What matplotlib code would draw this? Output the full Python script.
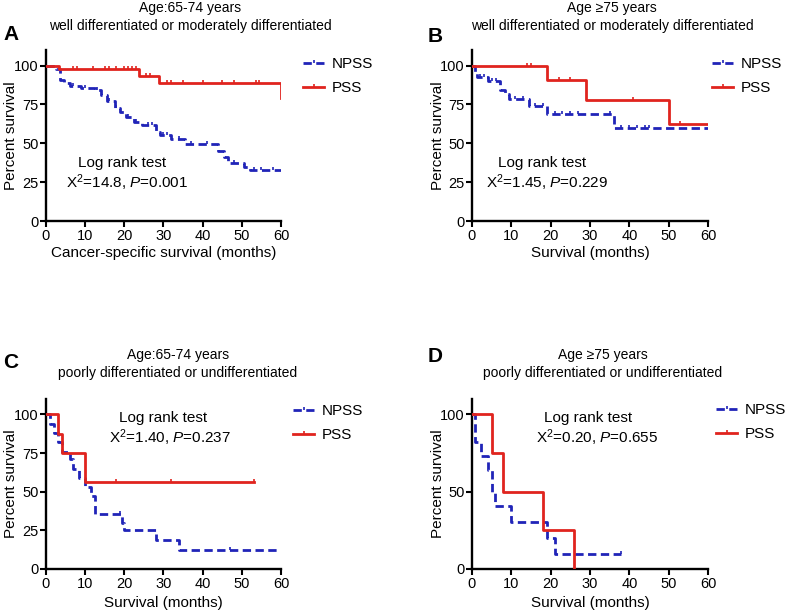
import numpy as np
import matplotlib
matplotlib.use("Agg")
import matplotlib.pyplot as plt
from matplotlib.lines import Line2D

plt.rcParams['font.family'] = ['Liberation Sans', 'DejaVu Sans']
plt.rcParams['mathtext.fontset'] = 'custom'
plt.rcParams['mathtext.rm'] = 'Liberation Sans'
plt.rcParams['mathtext.it'] = 'Liberation Sans:italic'

# ---------------- data ----------------
A_npss_t = [0, 2.5, 3.5, 4.5, 6, 9, 12.5, 14, 15.5, 17.5, 19, 20.5, 22.5, 24.5, 28, 29, 32, 35.5, 44, 45.5, 46.5, 50.5, 52, 60]
A_npss_s = [100, 98, 91, 89, 87, 85.5, 84, 81, 77, 73, 70, 67, 64, 62, 57, 55.5, 53, 49.5, 45, 41, 37.5, 35, 33, 33]
A_npss_c = [7, 10, 13, 16, 18, 21, 23, 26, 27, 30, 31, 34, 37, 41, 48, 53, 55, 58]
A_pss_t = [0, 3.3, 23.7, 28.8, 60]
A_pss_s = [100, 97.5, 93, 88.5, 79]
A_pss_c = [7, 8, 12, 15, 16, 18, 20, 21, 22, 23, 25.5, 26.5, 31, 32, 35, 40, 45, 48, 53.5, 54.5]

B_npss_t = [0, 0.7, 1.3, 4, 7.2, 8.5, 9.5, 14.5, 19, 36, 60]
B_npss_s = [100, 96, 92.5, 90, 84, 81.5, 78.5, 74, 69, 60, 60]
B_npss_c = [2, 3, 5, 6, 11, 13, 16, 18, 21, 23, 25, 27, 35, 38, 40, 42, 44, 45]
B_pss_t = [0, 19, 29, 50, 60]
B_pss_s = [100, 91, 78, 62.5, 62.5]
B_pss_c = [14, 15, 22, 25, 41, 53]

C_npss_t = [0, 1, 2, 3, 4, 6, 7, 8.5, 10, 11.5, 12.5, 19.5, 20, 28, 34, 60]
C_npss_s = [100, 94, 88, 82, 76, 71, 65, 59, 53, 47, 35.3, 30, 25, 19, 12.5, 12.5]
C_npss_c = [19, 47]
C_pss_t = [0, 3, 4, 10, 53]
C_pss_s = [100, 87.5, 75, 56.25, 56.25]
C_pss_c = [18, 32, 53]

D_npss_t = [0, 0.7, 2.2, 4, 5, 5.8, 10, 19, 21, 38]
D_npss_s = [100, 82, 73, 64, 50, 41, 30.5, 20, 10, 10]
D_npss_c = [38]
D_pss_t = [0, 5, 8, 18, 26]
D_pss_s = [100, 75, 50, 25, 0]
D_pss_c = []

letters = ['A', 'B', 'C', 'D']
titles = ['Age:65-74 years\nwell differentiated or moderately differentiated',
          'Age \u226575 years\nwell differentiated or moderately differentiated',
          'Age:65-74 years\npoorly differentiated or undifferentiated',
          'Age \u226575 years\npoorly differentiated or undifferentiated']
xlabels = ['Cancer-specific survival (months)', 'Survival (months)',
           'Survival (months)', 'Survival (months)']
stats = [r'X$^2$=14.8, $\mathit{P}$=0.001', r'X$^2$=1.45, $\mathit{P}$=0.229',
         r'X$^2$=1.40, $\mathit{P}$=0.237', r'X$^2$=0.20, $\mathit{P}$=0.655']
series = [
    (A_npss_t, A_npss_s, A_npss_c, A_pss_t, A_pss_s, A_pss_c),
    (B_npss_t, B_npss_s, B_npss_c, B_pss_t, B_pss_s, B_pss_c),
    (C_npss_t, C_npss_s, C_npss_c, C_pss_t, C_pss_s, C_pss_c),
    (D_npss_t, D_npss_s, D_npss_c, D_pss_t, D_pss_s, D_pss_c),
]
yticks = [[0, 25, 50, 75, 100], [0, 25, 50, 75, 100], [0, 25, 50, 75, 100], [0, 50, 100]]

BLUE = '#2024b8'
RED = '#e0241e'
tick_marker = [(0, 0), (0, 1)]

W, H = 790, 612
fig = plt.figure(figsize=(W / 100, H / 100), dpi=100)

# axes rectangles in pixels: left, right, top(y=110), bottom(y=0)
rects = [(46, 281, 50, 221), (472, 708, 50, 221), (46, 281, 399, 569), (472, 708, 399, 569)]
# text placements (pixel)
letter_pos = [(3, 34), (428, 36), (3, 363), (428, 357)]
title_pos = [(190, 17), (612, 17), (178, 364), (603, 364)]
logrank_pos = [(122, 163), (542, 163), (163, 418), (588, 418)]
stat_pos = [(127, 183), (547, 183), (170, 438), (597, 438)]
legend_pos = [(303, 57), (712, 57), (293, 404), (716, 403)]
ylabel_x = [11, 438, 11, 438]
xlabel_y = [253, 253, 603, 603]


def step_value(t, s, x):
    idx = np.searchsorted(np.asarray(t), x, side='right') - 1
    return np.asarray(s)[idx]


for i in range(4):
    l, r, tp, b = rects[i]
    ax = fig.add_axes([l / W, 1 - b / H, (r - l) / W, (b - tp) / H])
    nt, ns, nc, pt, ps, pc = series[i]
    ax.step(nt, ns, where='post', color=BLUE, lw=2.0, ls=(0, (3, 1.6)), zorder=3)
    if nc:
        ax.plot(nc, step_value(nt, ns, nc), ls='none', marker=tick_marker,
                ms=5, mew=1.2, color=BLUE, zorder=3)
    ax.step(pt, ps, where='post', color=RED, lw=2.0, zorder=4)
    if pc:
        ax.plot(pc, step_value(pt, ps, pc), ls='none', marker=tick_marker,
                ms=5, mew=1.2, color=RED, zorder=4)

    ax.set_xlim(0, 60)
    ax.set_ylim(0, 110)
    ax.set_xticks([0, 10, 20, 30, 40, 50, 60])
    ax.set_yticks(yticks[i])
    for sp in ['top', 'right']:
        ax.spines[sp].set_visible(False)
    for sp in ['left', 'bottom']:
        ax.spines[sp].set_linewidth(1.7)
    ax.tick_params(direction='out', width=1.5, length=4.5, labelsize=10.5, pad=1)
    ax.set_ylabel('Percent survival', fontsize=11, va='center')
    ax.yaxis.set_label_coords((ylabel_x[i] - l) / (r - l), 0.5)
    ax.set_xlabel(xlabels[i], fontsize=11, va='center')
    ax.xaxis.set_label_coords(0.5, -(xlabel_y[i] - b) / (b - tp))
    ax.patch.set_alpha(0)

    fig.text(letter_pos[i][0] / W, 1 - letter_pos[i][1] / H, letters[i],
             fontsize=15, fontweight='bold', va='center', ha='left')
    fig.text(title_pos[i][0] / W, 1 - title_pos[i][1] / H, titles[i],
             fontsize=10, va='center', ha='center', linespacing=1.45)
    fig.text(logrank_pos[i][0] / W, 1 - logrank_pos[i][1] / H, 'Log rank test',
             fontsize=11, va='center', ha='center')
    fig.text(stat_pos[i][0] / W, 1 - stat_pos[i][1] / H, stats[i],
             fontsize=11, va='center', ha='center')

    handles = [Line2D([0], [0], color=BLUE, lw=2.0, ls=(0, (3, 1.6)),
                      marker=tick_marker, ms=5, mew=1.2),
               Line2D([0], [0], color=RED, lw=2.0,
                      marker=tick_marker, ms=5, mew=1.2)]
    fig.legend(handles, ['NPSS', 'PSS'], loc='upper left',
               bbox_to_anchor=(legend_pos[i][0] / W, 1 - legend_pos[i][1] / H),
               frameon=False, fontsize=11, handlelength=1.4, handletextpad=0.5,
               borderaxespad=0, borderpad=0, labelspacing=0.65, numpoints=1)

fig.savefig('out.png', dpi=100)
